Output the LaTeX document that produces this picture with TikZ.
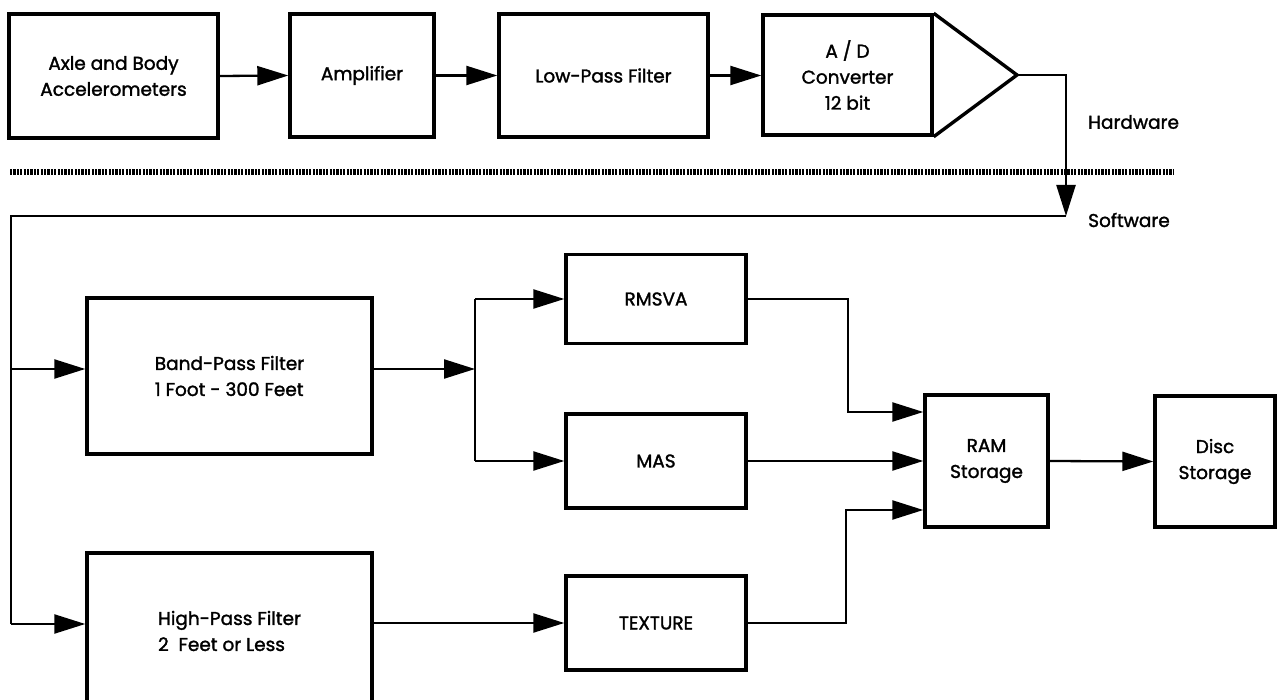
\documentclass[tikz,border=0pt]{standalone}
\usepackage{fontspec}
\setmainfont{Poppins}[FakeBold=1.6]
\usetikzlibrary{arrows.meta,calc}
\begin{document}
\begin{tikzpicture}[x=1pt,y=-1pt,
  txt/.style={font=\fontsize{18.5}{26}\selectfont},
  box/.style={draw,line width=3.4pt,inner sep=0pt,align=center,txt},
  conn/.style={line width=2.3pt,line join=miter},
  arr/.style={conn,-{Triangle[length=31pt,width=19pt]}},
  lbl/.style={txt,anchor=west,inner sep=0pt}]
\useasboundingbox (0,0) rectangle (1278,700);
% hardware row
\node[box,minimum width=209pt,minimum height=124pt] (axle) at (113.5,76) {Axle and Body\\Accelerometers};
\node[box,minimum width=144pt,minimum height=123pt] (amp) at (362,75.5) {Amplifier};
\node[box,minimum width=209pt,minimum height=123pt] (lpf) at (603.5,75.5) {Low-Pass Filter};
\node[box,minimum width=169pt,minimum height=120pt] (adc) at (847.5,75) {A / D\\Converter\\12 bit};
\draw[line width=3.4pt,line join=miter] (adc.north east) -- (1017,75) coordinate (tip) -- (adc.south east);
\draw[arr] (axle.east) -- (amp.west);
\draw[arr] (amp.east) -- (lpf.west);
\draw[arr] (lpf.east) -- (lpf.east -| adc.west);
% separator
\coordinate (dl) at (10,172);
\coordinate (dr) at (1173,172);
\draw[line width=6pt,dash pattern=on 2.2pt off 1.2pt] (dl) -- (dr);
\node[lbl] (hw) at (1088,122) {Hardware};
\node[lbl] (sw-l) at (1088,220) {Software};
% software part
\coordinate (sw) at (1066,216);
\coordinate (lm) at (11,369);
\coordinate (lb) at (11,624);
\coordinate (br) at (475,369);
\draw[arr] (tip) -| (sw);
\draw[conn] (sw) -| (lb);
\node[box,align=left,minimum width=285pt,minimum height=156pt] (bpf) at (229.5,376) {Band-Pass Filter\\1 Foot - 300 Feet};
\node[box,align=left,minimum width=285pt,minimum height=156pt] (hpf) at (229.5,631) {High-Pass Filter\\2\ \ Feet or Less};
\node[box,minimum width=180pt,minimum height=89pt] (rmsva) at (656,299) {RMSVA};
\node[box,minimum width=180pt,minimum height=94pt] (mas) at (656,461) {MAS};
\node[box,minimum width=180pt,minimum height=94pt] (tex) at (656,623) {TEXTURE};
\node[box,minimum width=123pt,minimum height=132pt] (ram) at (986.5,461) {RAM\\Storage};
\node[box,minimum width=120pt,minimum height=131pt] (disc) at (1215,461.5) {Disc\\Storage};
\draw[arr] (lm) -- (bpf.west |- lm);
\draw[arr] (lb) -- (hpf.west |- lb);
\draw[arr] (bpf.east |- br) -- (br);
\draw[conn] (br |- rmsva.west) -- (br |- mas.west);
\draw[arr] (br |- rmsva.west) -- (rmsva.west);
\draw[arr] (br |- mas.west) -- (mas.west);
\draw[arr] (hpf.east |- tex.west) -- (tex.west);
\draw[arr] (rmsva.east) -- ++(100,0) |- ([yshift=49pt]ram.west);
\draw[arr] (mas.east) -- (ram.west);
\draw[arr] (tex.east) -- ++(98,0) |- ([yshift=-49pt]ram.west);
\draw[arr] (ram.east) -- (disc.west);
\end{tikzpicture}
\end{document}
